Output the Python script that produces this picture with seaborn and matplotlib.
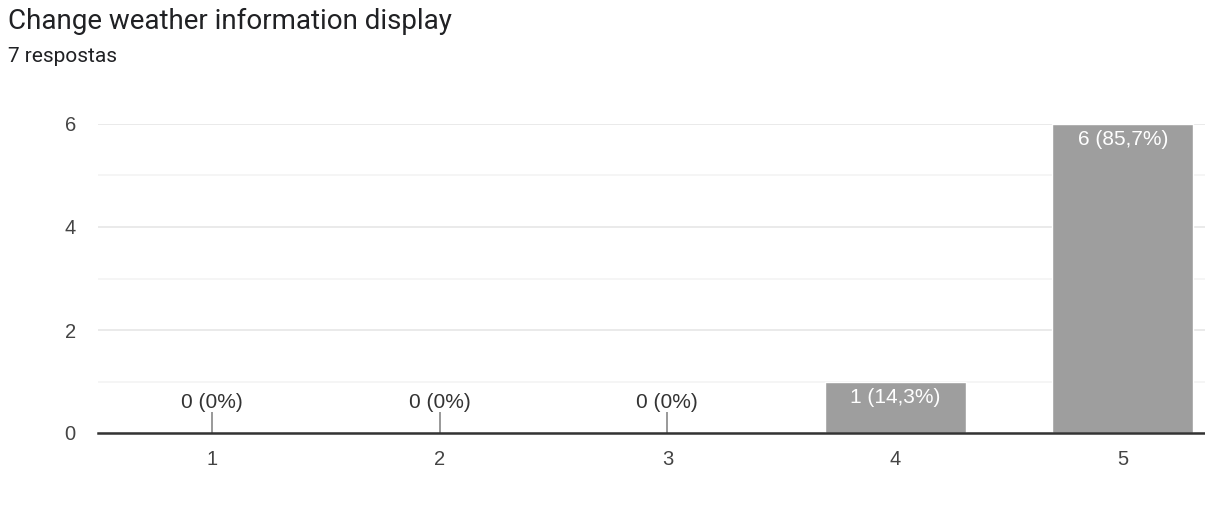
import matplotlib
matplotlib.use("Agg")
import matplotlib.pyplot as plt
import seaborn as sns
import pandas as pd

# data
categories = ["1", "2", "3", "4", "5"]
counts = [0, 0, 0, 1, 6]
title = "Change weather information display"
subtitle = "7 respostas"

total = sum(counts)
df = pd.DataFrame({"option": categories, "count": counts})

sns.set_theme(style="white")
plt.rcParams['font.family'] = ['Liberation Sans', 'DejaVu Sans']

W, H = 1205, 509
fig = plt.figure(figsize=(W / 100, H / 100), dpi=100)
ax = fig.add_axes([98 / W, (H - 433) / H, (W - 98) / W, (433 - 124) / H])

sns.barplot(data=df, x="option", y="count", color="#9e9e9e", saturation=1,
            width=0.62, ax=ax, zorder=2)

ax.set_xlim(-0.5, (W - 98) / 227.75 - 0.5)
ax.set_ylim(0, 6)

# gridlines: major (even) a bit darker than minor (odd)
ax.set_yticks([0, 2, 4, 6])
ax.set_yticks([1, 3, 5], minor=True)
ax.grid(axis="y", which="major", color="#e6e6e6", linewidth=1.2, zorder=0)
ax.grid(axis="y", which="minor", color="#f3f3f3", linewidth=1.2, zorder=0)
ax.grid(axis="x", visible=False)
ax.set_axisbelow(True)
for s in ["top", "right", "left"]:
    ax.spines[s].set_visible(False)
ax.spines["bottom"].set_color("#333333")
ax.spines["bottom"].set_linewidth(1.8)
ax.spines["bottom"].set_zorder(3)

ax.tick_params(axis="both", which="both", length=0, labelsize=14.5, colors="#444444")
ax.tick_params(axis="y", pad=16)
ax.tick_params(axis="x", pad=12)
ax.set_xlabel("")
ax.set_ylabel("")

# value labels
for i, c in enumerate(counts):
    pct = c / total * 100
    pct_txt = f"{pct:.1f}".replace(".", ",").replace(",0", "") + "%"
    txt = f"{c} ({pct_txt})"
    if c == 0:
        ax.vlines(i, 0, 0.41, color="#888888", linewidth=1.2, zorder=3)
        ax.annotate(txt, (i, 0), xytext=(0, 22), textcoords="offset points",
                    ha="center", va="center", fontsize=15, color="#333333")
    else:
        ax.annotate(txt, (i, c), xytext=(0, -11.5), textcoords="offset points",
                    ha="center", va="center", fontsize=15, color="white")

fig.text(8 / W, 1 - 21 / H, title, fontsize=20, color="#202124",
         family=["Roboto", "DejaVu Sans"], ha="left", va="center")
fig.text(8 / W, 1 - 57 / H, subtitle, fontsize=15, color="#202124",
         family=["Roboto", "DejaVu Sans"], ha="left", va="center")

fig.savefig("out.png", dpi=100, facecolor="white")
